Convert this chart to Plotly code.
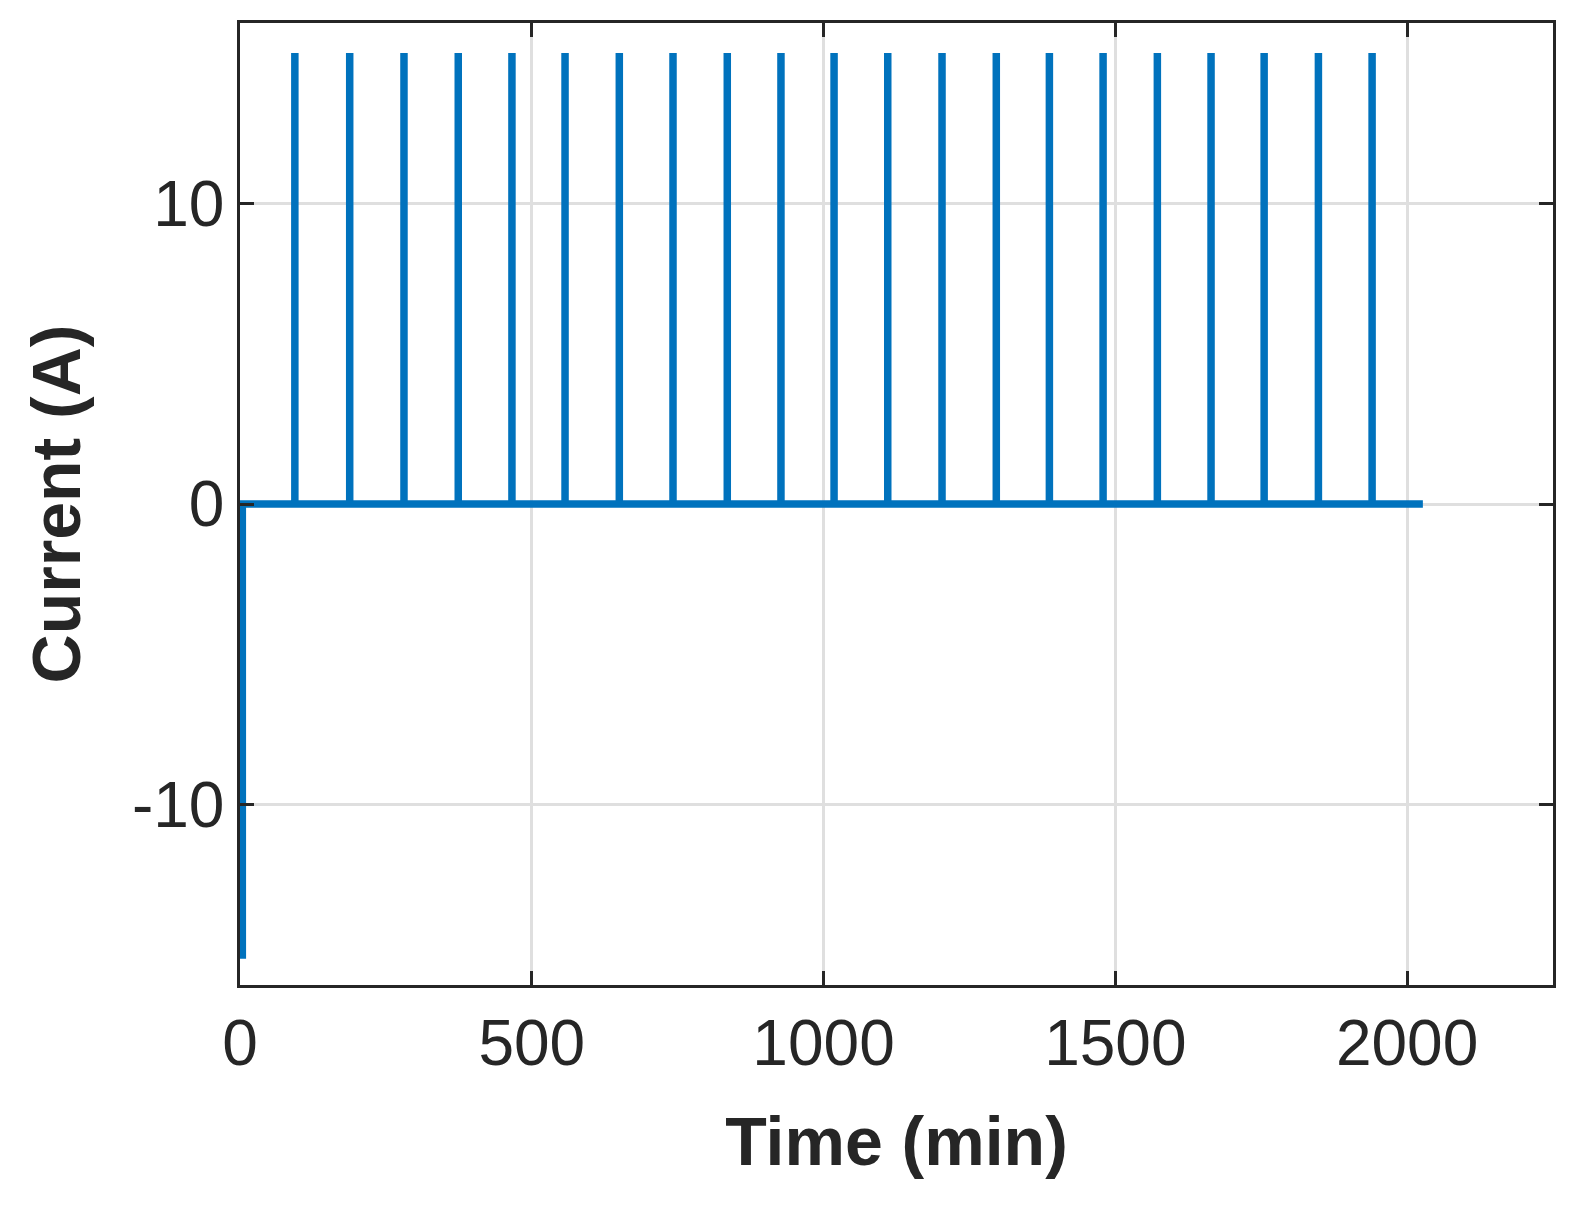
import plotly.graph_objects as go

# pulse times (min)
spike_times = [94, 188, 281, 374, 466, 557, 650, 742, 835, 927, 1018,
               1110, 1203, 1296, 1387, 1479, 1572, 1664, 1755, 1848, 1940]
spike_current = 15
start_current = -15
start_width = 4
end_time = 2027

y_ticks = [-10, 0, 10]
y_tick_labels = ["-10", "0", "10"]
x_ticks = [0, 500, 1000, 1500, 2000]

# build the step trace from the values above
t = [0, 0, start_width, start_width]
i = [0, start_current, start_current, 0]
for s in spike_times:
    t += [s, s, s]
    i += [0, spike_current, 0]
t.append(end_time)
i.append(0)

fig = go.Figure()
fig.add_trace(go.Scatter(x=t, y=i, mode="lines",
                         line=dict(color="#0072BD", width=7.5)))

font_family = "Liberation Sans, Arial"
axis_common = dict(
    showline=True, linecolor="#262626", linewidth=2.5, mirror="ticks",
    ticks="inside", ticklen=14, tickwidth=2.5, tickcolor="#262626",
    showgrid=True, gridcolor="#DFDFDF", gridwidth=2.5, zeroline=False,
    tickfont=dict(size=64, color="#262626", family=font_family),
)

fig.update_layout(
    width=1575, height=1220,
    margin=dict(l=232, r=30, t=15, b=243),
    plot_bgcolor="white", paper_bgcolor="white",
    showlegend=False,
    xaxis=dict(range=[0, 2250], tickvals=x_ticks,
               title=dict(text="<b>Time (min)</b>", standoff=40,
                          font=dict(size=68, color="#262626", family=font_family)),
               **axis_common),
    yaxis=dict(range=[-16, 16], tickvals=y_ticks, ticktext=y_tick_labels,
               title=dict(text="<b>Current (A)</b>", standoff=30,
                          font=dict(size=68, color="#262626", family=font_family)),
               **axis_common),
)

fig.write_html("out.html")
